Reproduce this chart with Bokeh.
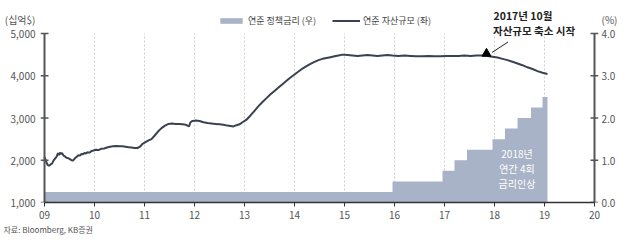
from bokeh.plotting import figure
from bokeh.models import (Range1d, LinearAxis, FixedTicker, NumeralTickFormatter,
                          Legend, LegendItem, Label, Title)
from bokeh.embed import file_html
from bokeh.resources import INLINE

FONT = "Noto Sans CJK KR"

# ---- data ----
years = [2009, 2010, 2011, 2012, 2013, 2014, 2015, 2016, 2017, 2018, 2019, 2020]
year_labels = ["09", "10", "11", "12", "13", "14", "15", "16", "17", "18", "19", "20"]
left_ticks = [1000, 2000, 3000, 4000, 5000]
right_ticks = [0, 1, 2, 3, 4]

# Fed balance sheet (billion $)
bs_t = [2009.00, 2009.03, 2009.06, 2009.09, 2009.12, 2009.15, 2009.18, 2009.21, 2009.24,
        2009.27, 2009.29, 2009.31, 2009.33, 2009.35, 2009.38, 2009.41, 2009.44, 2009.47,
        2009.50, 2009.53, 2009.56, 2009.59, 2009.62, 2009.65, 2009.68, 2009.71, 2009.74,
        2009.77, 2009.80, 2009.83, 2009.86, 2009.90, 2009.94, 2009.98,
        2010.03, 2010.08, 2010.13, 2010.19, 2010.25, 2010.31, 2010.37, 2010.43, 2010.50,
        2010.56, 2010.62, 2010.68, 2010.74, 2010.80, 2010.86, 2010.91, 2010.96,
        2011.02, 2011.08, 2011.14, 2011.20, 2011.27, 2011.34, 2011.41, 2011.48, 2011.55,
        2011.62, 2011.69, 2011.76, 2011.83, 2011.89, 2011.92, 2011.96,
        2012.03, 2012.10, 2012.18, 2012.26, 2012.34, 2012.42, 2012.50, 2012.58, 2012.66,
        2012.72, 2012.78, 2012.84, 2012.90, 2012.96,
        2013.04, 2013.12, 2013.20, 2013.28, 2013.36, 2013.44, 2013.52, 2013.60, 2013.68,
        2013.76, 2013.84, 2013.92, 2014.00, 2014.08, 2014.16, 2014.24, 2014.32, 2014.40,
        2014.48, 2014.56, 2014.64, 2014.72, 2014.80, 2014.88, 2014.96,
        2015.06, 2015.16, 2015.26, 2015.36, 2015.46, 2015.56, 2015.66, 2015.76, 2015.86,
        2015.96, 2016.08, 2016.20, 2016.32, 2016.44, 2016.56, 2016.68, 2016.80, 2016.92,
        2017.04, 2017.16, 2017.28, 2017.40, 2017.52, 2017.64, 2017.76, 2017.86,
        2017.96, 2018.06, 2018.16, 2018.26, 2018.36, 2018.46, 2018.56, 2018.66,
        2018.76, 2018.86, 2018.96, 2019.06]
bs_v = [2080, 1980, 1890, 1870, 1900, 1920, 1990, 2040, 2080,
        2170, 2120, 2180, 2150, 2170, 2110, 2090, 2060, 2050,
        2030, 2010, 1990, 2020, 2060, 2090, 2120, 2110, 2150,
        2140, 2170, 2160, 2190, 2180, 2220, 2230,
        2250, 2240, 2270, 2280, 2300, 2320, 2330, 2340, 2330,
        2330, 2320, 2310, 2300, 2290, 2290, 2320, 2390,
        2430, 2470, 2500, 2580, 2680, 2760, 2820, 2860, 2870,
        2860, 2860, 2850, 2840, 2800, 2900, 2930,
        2940, 2930, 2900, 2880, 2870, 2860, 2850, 2840, 2820,
        2810, 2800, 2830, 2850, 2900,
        2960, 3060, 3170, 3280, 3380, 3470, 3560, 3640, 3720,
        3800, 3880, 3960, 4030, 4100, 4170, 4230, 4280, 4330,
        4370, 4400, 4420, 4440, 4460, 4480, 4500,
        4490, 4480, 4470, 4480, 4490, 4480, 4470, 4480, 4490,
        4480, 4470, 4480, 4470, 4460, 4460, 4470, 4460, 4460,
        4470, 4470, 4470, 4480, 4470, 4480, 4480, 4470,
        4450, 4430, 4400, 4370, 4330, 4290, 4250, 4200,
        4160, 4110, 4070, 4040]

# Fed funds rate upper bound (%), step changes
rate_t = [2009.00, 2015.96, 2016.96, 2017.20, 2017.45, 2017.96, 2018.21, 2018.46, 2018.73, 2018.96, 2019.06]
rate_v = [0.25, 0.50, 0.75, 1.00, 1.25, 1.50, 1.75, 2.00, 2.25, 2.50, 2.50]

ann_point = (2017.84, 4480)

# ---- layout constants (pixels) ----
W, H = 640, 242
AX_L, AX_R = 44, 594          # axis line x positions
Y_TOP, Y_BOT = 33, 202        # top/bottom of value scale
PAD = 4                       # frame extends a bit beyond axes for tick marks
px_per_year = (AX_R - AX_L) / (years[-1] - years[0])
px_per_val = (Y_BOT - Y_TOP) / (left_ticks[-1] - left_ticks[0])
px_per_rate = (Y_BOT - Y_TOP) / (right_ticks[-1] - right_ticks[0])

x_start = years[0] - PAD / px_per_year
x_end = years[-1] + PAD / px_per_year
y_end = left_ticks[0] + Y_BOT / px_per_val
r_end = right_ticks[0] + Y_BOT / px_per_rate

def val_at(py):   # value at pixel row py
    return left_ticks[0] + (Y_BOT - py) / px_per_val

def rate_at(py):
    return right_ticks[0] + (Y_BOT - py) / px_per_rate

p = figure(width=W, height=H, output_backend="svg", toolbar_location=None,
           x_range=Range1d(x_start, x_end), y_range=Range1d(left_ticks[0], y_end),
           min_border_left=AX_L - PAD, min_border_right=W - AX_R - PAD,
           min_border_top=0, min_border_bottom=H - Y_BOT)
p.outline_line_color = None
p.extra_y_ranges = {"rate": Range1d(right_ticks[0], r_end)}

AX = "#555555"
LBL = "#555555"

# x axis
p.xaxis.ticker = FixedTicker(ticks=years)
p.xaxis.bounds = (years[0], years[-1])
p.xaxis.major_label_overrides = {y: l for y, l in zip(years, year_labels)}
p.xaxis.minor_tick_line_color = None
p.xaxis.major_tick_in = 0
p.xaxis.major_tick_out = 4
p.xaxis.axis_line_color = "#333333"
p.xaxis.axis_line_width = 1.5
p.xaxis.major_tick_line_color = "#333333"
p.xaxis.major_label_text_font = FONT
p.xaxis.major_label_text_font_size = "10px"
p.xaxis.major_label_text_color = LBL
p.xaxis.major_label_standoff = 4

# left axis: labels only (line + ticks drawn as glyphs so the unit label can sit above)
lv = val_at(19)
p.yaxis.ticker = FixedTicker(ticks=left_ticks + [lv])
p.yaxis.major_label_overrides = {**{t: f"{t:,}" for t in left_ticks}, lv: "(십억$)"}
p.yaxis.minor_tick_line_color = None
p.yaxis.major_tick_line_color = None
p.yaxis.major_tick_in = 0
p.yaxis.major_tick_out = 0
p.yaxis.axis_line_color = None
p.yaxis.major_label_text_font = FONT
p.yaxis.major_label_text_font_size = "10px"
p.yaxis.major_label_text_color = LBL
p.yaxis.major_label_standoff = 5

rv = rate_at(19)
ra = LinearAxis(y_range_name="rate", ticker=FixedTicker(ticks=right_ticks + [rv]))
ra.major_label_overrides = {**{t: f"{t:.1f}" for t in right_ticks}, rv: "  (%)"}
ra.minor_tick_line_color = None
ra.major_tick_line_color = None
ra.major_tick_in = 0
ra.major_tick_out = 0
ra.axis_line_color = None
ra.major_label_text_font = FONT
ra.major_label_text_font_size = "10px"
ra.major_label_text_color = LBL
ra.major_label_standoff = 3
p.add_layout(ra, "right")

p.grid.grid_line_color = None

# dashed vertical year gridlines between the axes
inner = years[1:-1]
p.segment(x0=inner, y0=[left_ticks[0]] * len(inner), x1=inner, y1=[left_ticks[-1]] * len(inner),
          line_color="#cfcfcf", line_dash="2 2", line_width=1)

# rate step area
area = p.varea_step(x=rate_t, y1=[0] * len(rate_t), y2=rate_v, step_mode="after",
                    y_range_name="rate", fill_color="#a8b3c7", fill_alpha=1.0)

# balance sheet line
line = p.line(bs_t, bs_v, line_color="#3a4152", line_width=2)

# axis lines + crossing tick marks
half = PAD / px_per_year
p.segment(x0=[years[0], years[-1]], y0=[left_ticks[0]] * 2, x1=[years[0], years[-1]],
          y1=[left_ticks[-1]] * 2, line_color=AX, line_width=2)
p.segment(x0=[years[0] - half] * len(left_ticks), y0=left_ticks,
          x1=[years[0] + half] * len(left_ticks), y1=left_ticks, line_color=AX, line_width=1.5)
p.segment(x0=[years[-1] - half] * len(right_ticks), y0=right_ticks,
          x1=[years[-1] + half] * len(right_ticks), y1=right_ticks, line_color=AX, line_width=1.5,
          y_range_name="rate")

# annotation marker + arrow
p.scatter([ann_point[0]], [ann_point[1] + 45], marker="triangle", size=9,
          fill_color="black", line_color="black")
p.segment(x0=[2018.27], y0=[val_at(41.5)], x1=[2017.95], y1=[val_at(52)],
          line_color="#222222", line_width=1)

# legend
legend = Legend(items=[LegendItem(label="연준 정책금리 (우)", renderers=[area]),
                       LegendItem(label="연준 자산규모 (좌)", renderers=[line])],
                orientation="horizontal", location=(217 - (AX_L - PAD), Y_BOT - 20 - 7),
                glyph_width=28, glyph_height=7, spacing=16, padding=0, margin=0,
                label_text_font=FONT, label_text_font_size="9px", label_text_color="#444444",
                label_standoff=3, background_fill_alpha=0, border_line_color=None)
p.add_layout(legend, "center")

def lab(x, y, t, size="9px", color="#444444", align="left", style="normal"):
    p.add_layout(Label(x=x, y=y, text=t, text_font=FONT,
                       text_font_size=size, text_color=color, text_align=align,
                       text_baseline="middle", text_font_style=style))

# annotation texts
lab(2017.98, val_at(15), "2017년 10월", size="10.5px", color="#222222", style="bold")
lab(2017.97, val_at(30), "자산규모 축소 시작", size="10.5px", color="#222222", style="bold")
lab(2018.45, val_at(153), "2018년", size="10px", color="white", align="center")
lab(2018.45, val_at(168), "연간 4회", size="10px", color="white", align="center")
lab(2018.45, val_at(183), "금리인상", size="10px", color="white", align="center")

# source note below the x axis
p.add_layout(Title(text="자료: Bloomberg, KB증권", align="left", offset=3 - (AX_L - PAD),
                   text_font=FONT, text_font_size="8px", text_font_style="normal",
                   text_color="#555555", standoff=0), "below")

open("out.html", "w").write(file_html(p, INLINE))
